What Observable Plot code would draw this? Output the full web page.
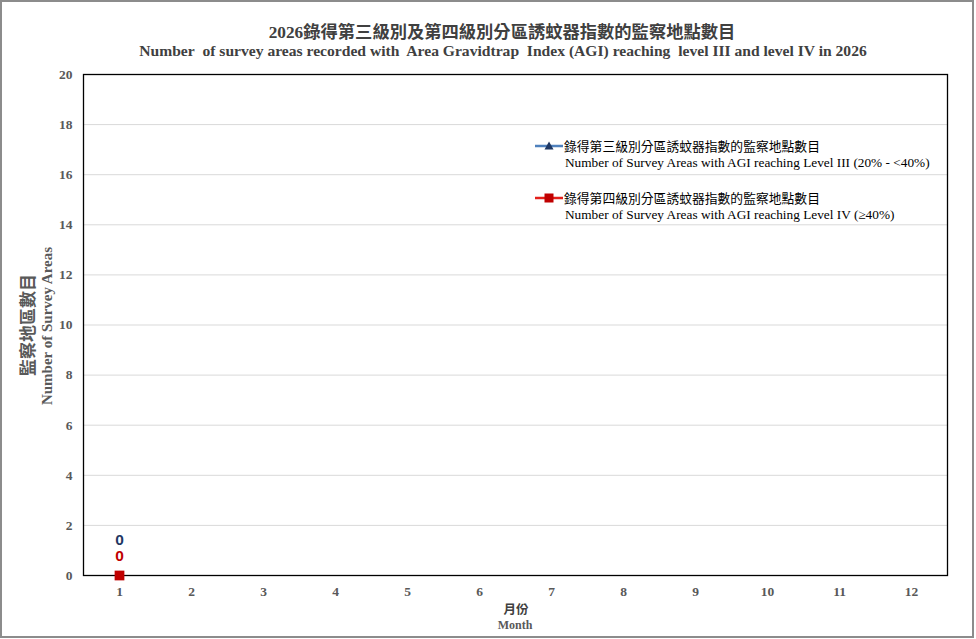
<!DOCTYPE html>
<html>
<head>
<meta charset="utf-8">
<script src="https://cdn.jsdelivr.net/npm/d3@7"></script>
<script src="https://cdn.jsdelivr.net/npm/@observablehq/plot@0.6"></script>
<style>
  html, body { margin: 0; padding: 0; background: #fff; }
  #wrap { position: relative; width: 976px; height: 639px; overflow: hidden; background: #fff; }
  #border { position: absolute; left: 0; top: 0; width: 974px; height: 638px; box-sizing: border-box; border: 2px solid #8c8c8c; pointer-events: none; }
  .abs { position: absolute; white-space: nowrap; }
  .c { transform: translate(-50%, -50%); }
  .rot { transform: translate(-50%, -50%) rotate(-90deg); }
  #chart { position: absolute; left: 0; top: 0; }
</style>
</head>
<body>
<div id="wrap">
  <div id="chart"></div>
  <div class="abs c" style="left:502px; top:30px; font-family:'Liberation Serif','Noto Sans CJK TC'; font-weight:bold; font-size:17.3px; color:#404040;">2026錄得第三級別及第四級別分區誘蚊器指數的監察地點數目</div>
  <div class="abs c" style="left:503px; top:51px; font-family:'Liberation Serif'; font-weight:bold; font-size:15.6px; color:#404040;">Number&nbsp; of survey areas recorded with&nbsp; Area Gravidtrap&nbsp; Index (AGI) reaching&nbsp; level III and level IV in 2026</div>
  <div class="abs rot" style="left:26px; top:325px; font-family:'Noto Sans CJK TC'; font-weight:bold; font-size:17px; color:#595959;">監察地區數目</div>
  <div class="abs rot" style="left:47px; top:326px; font-family:'Liberation Serif'; font-weight:bold; font-size:15px; color:#595959;">Number of Survey Areas</div>
  <div class="abs c" style="left:516px; top:608px; font-family:'Noto Sans CJK TC'; font-weight:bold; font-size:12.5px; color:#404040;">月份</div>
  <div class="abs c" style="left:515px; top:625px; font-family:'Liberation Serif'; font-weight:bold; font-size:12px; color:#595959;">Month</div>
  <div id="legend"></div>
  <div id="border"></div>
</div>
<script>
// ---- data ----
const months = [1, 2, 3, 4, 5, 6, 7, 8, 9, 10, 11, 12];
const yTicks = [0, 2, 4, 6, 8, 10, 12, 14, 16, 18, 20];
const level3Months = [1];
const level3Values = [0];
const level4Months = [1];
const level4Values = [0];
const seriesNamesZh = ["錄得第三級別分區誘蚊器指數的監察地點數目", "錄得第四級別分區誘蚊器指數的監察地點數目"];
const seriesNamesEn = ["Number of Survey Areas with AGI reaching Level III (20% - <40%)", "Number of Survey Areas with AGI reaching Level IV (≥40%)"];

const level3 = level3Months.map((m, i) => ({month: m, value: level3Values[i]}));
const level4 = level4Months.map((m, i) => ({month: m, value: level4Values[i]}));

const c3line = "#4f81bd", c3mark = "#1f3864";
const c4line = "#e3201b", c4mark = "#c00000";

const chart = Plot.plot({
  width: 976,
  height: 639,
  marginLeft: 83,
  marginRight: 29,
  marginTop: 74,
  marginBottom: 64,
  style: {background: "transparent", fontFamily: "Liberation Serif", fontSize: "13.5px", fontWeight: "bold", color: "#595959"},
  x: {type: "point", domain: months, padding: 0.5, label: null},
  y: {domain: [0, 20], label: null},
  marks: [
    Plot.gridY(yTicks, {stroke: "#d9d9d9", strokeOpacity: 1}),
    Plot.frame({stroke: "#000", strokeWidth: 1.3}),
    Plot.axisX(months, {tickSize: 0, tickPadding: 11, label: null, fill: "#595959"}),
    Plot.axisY(yTicks, {tickSize: 0, tickPadding: 11, label: null, fill: "#595959"}),
    Plot.line(level3, {x: "month", y: "value", stroke: c3line, strokeWidth: 2.5}),
    Plot.dot(level3, {x: "month", y: "value", symbol: "triangle", fill: c3mark, stroke: "none", r: 3}),
    Plot.line(level4, {x: "month", y: "value", stroke: c4line, strokeWidth: 2.5}),
    Plot.dot(level4, {x: "month", y: "value", symbol: "square", fill: c4mark, stroke: "none", r: 5.5}),
    Plot.text(level3, {x: "month", y: "value", text: d => String(d.value), dy: -35, fill: c3mark, fontFamily: "Liberation Sans", fontSize: 15.5, fontWeight: "bold"}),
    Plot.text(level4, {x: "month", y: "value", text: d => String(d.value), dy: -19, fill: c4mark, fontFamily: "Liberation Sans", fontSize: 15.5, fontWeight: "bold"})
  ]
});
document.getElementById("chart").appendChild(chart);

// ---- legend ----
const legend = document.getElementById("legend");
const legendItems = [
  {zh: seriesNamesZh[0], en: seriesNamesEn[0], line: c3line, mark: c3mark, sym: "triangle", top: 146},
  {zh: seriesNamesZh[1], en: seriesNamesEn[1], line: c4line, mark: c4mark, sym: "square", top: 198}
];
legendItems.forEach(it => {
  const sw = document.createElementNS("http://www.w3.org/2000/svg", "svg");
  sw.setAttribute("width", 30);
  sw.setAttribute("height", 14);
  sw.style.position = "absolute";
  sw.style.left = "534px";
  sw.style.top = (it.top - 7) + "px";
  const markShape = it.sym === "triangle"
    ? `<path d="M15,2.5 L19.5,10.5 L10.5,10.5 Z" fill="${it.mark}"/>`
    : `<rect x="10.5" y="2.5" width="9" height="9" fill="${it.mark}"/>`;
  sw.innerHTML = `<line x1="1" x2="29" y1="7" y2="7" stroke="${it.line}" stroke-width="2.5"/>` + markShape;
  legend.appendChild(sw);
  const zh = document.createElement("div");
  zh.className = "abs";
  zh.style.cssText = `left:564px; top:${it.top - 8.5}px; font-family:'Noto Sans CJK TC'; font-size:12.8px; line-height:15px; color:#000;`;
  zh.textContent = it.zh;
  legend.appendChild(zh);
  const en = document.createElement("div");
  en.className = "abs";
  en.style.cssText = `left:565px; top:${it.top + 9.5}px; font-family:'Liberation Serif'; font-size:13.3px; line-height:14px; color:#000;`;
  en.textContent = it.en;
  legend.appendChild(en);
});
</script>
</body>
</html>
